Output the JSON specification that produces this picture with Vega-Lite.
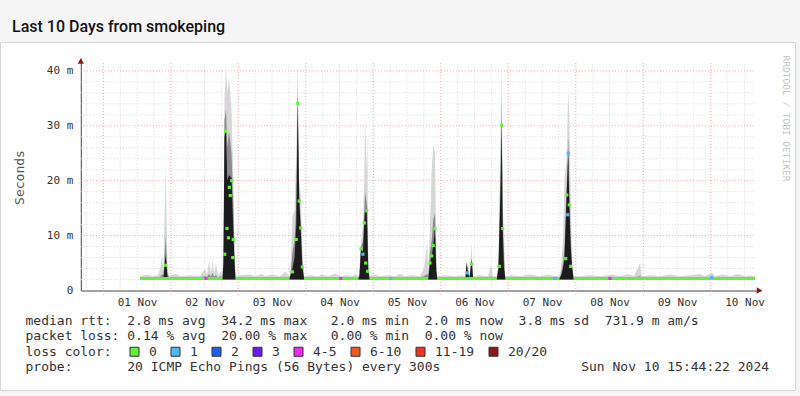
{
 "$schema": "https://vega.github.io/schema/vega-lite/v6.json",
 "autosize": {"type": "none"},
 "background": "#f5f5f5",
 "padding": {"left": 0, "top": 42, "right": 5, "bottom": 6},
 "width": 795,
 "height": 348,
 "view": {"fill": "#ffffff", "stroke": "#d6d6d6"},
 "config": {"view": {"stroke": null}},
 "title": {"text": "Last 10 Days from smokeping", "anchor": "start", "frame": "group", "orient": "top", "offset": -6, "dx": 12, "baseline": "alphabetic", "font": "Roboto", "fontSize": 16, "fontWeight": 500, "color": "#111111"},
 "datasets": {
  "vmin": [
   {"t":"2024-10-31T18:00"},
   {"t":"2024-11-01T06:00"},{"t":"2024-11-01T12:00"},{"t":"2024-11-01T18:00"},
   {"t":"2024-11-02T06:00"},{"t":"2024-11-02T12:00"},{"t":"2024-11-02T18:00"},
   {"t":"2024-11-03T06:00"},{"t":"2024-11-03T12:00"},{"t":"2024-11-03T18:00"},
   {"t":"2024-11-04T06:00"},{"t":"2024-11-04T12:00"},{"t":"2024-11-04T18:00"},
   {"t":"2024-11-05T06:00"},{"t":"2024-11-05T12:00"},{"t":"2024-11-05T18:00"},
   {"t":"2024-11-06T06:00"},{"t":"2024-11-06T12:00"},{"t":"2024-11-06T18:00"},
   {"t":"2024-11-07T06:00"},{"t":"2024-11-07T12:00"},{"t":"2024-11-07T18:00"},
   {"t":"2024-11-08T06:00"},{"t":"2024-11-08T12:00"},{"t":"2024-11-08T18:00"},
   {"t":"2024-11-09T06:00"},{"t":"2024-11-09T12:00"},{"t":"2024-11-09T18:00"},
   {"t":"2024-11-10T06:00"},{"t":"2024-11-10T12:00"}
  ],
  "vmaj": [
   {"t":"2024-11-01T00:00"},{"t":"2024-11-02T00:00"},{"t":"2024-11-03T00:00"},{"t":"2024-11-04T00:00"},{"t":"2024-11-05T00:00"},
   {"t":"2024-11-06T00:00"},{"t":"2024-11-07T00:00"},{"t":"2024-11-08T00:00"},{"t":"2024-11-09T00:00"},{"t":"2024-11-10T00:00"}
  ],
  "hmin": [{"v":2},{"v":4},{"v":6},{"v":8},{"v":12},{"v":14},{"v":16},{"v":18},{"v":22},{"v":24},{"v":26},{"v":28},{"v":32},{"v":34},{"v":36},{"v":38}],
  "hmaj": [{"v":10},{"v":20},{"v":30},{"v":40}],
  "smoke": [
   {"t":"2024-11-01T13:03","lo":2,"hi":2.6,"mid":2.4,"dk":2.2},
   {"t":"2024-11-01T15:54","lo":2,"hi":2.9,"mid":2.4,"dk":2.2},
   {"t":"2024-11-01T17:19","lo":2,"hi":2.6,"mid":2.4,"dk":2.2},
   {"t":"2024-11-01T19:27","lo":2,"hi":2.8,"mid":2.4,"dk":2.2},
   {"t":"2024-11-01T20:31","lo":2,"hi":4.5,"mid":2.6,"dk":2.2},
   {"t":"2024-11-01T20:52","lo":2,"hi":6.5,"mid":3.0,"dk":2.3},
   {"t":"2024-11-01T21:24","lo":2,"hi":3.5,"mid":2.8,"dk":2.4},
   {"t":"2024-11-01T22:11","lo":2,"hi":22.5,"mid":10,"dk":6.5},
   {"t":"2024-11-01T22:50","lo":2,"hi":4,"mid":3,"dk":2.4},
   {"t":"2024-11-01T23:22","lo":2,"hi":2.7,"mid":2.4,"dk":2.2},
   {"t":"2024-11-02T01:51","lo":2,"hi":3.0,"mid":2.4,"dk":2.2},
   {"t":"2024-11-02T03:16","lo":2,"hi":2.6,"mid":2.4,"dk":2.2},
   {"t":"2024-11-02T06:50","lo":2,"hi":2.8,"mid":2.4,"dk":2.2},
   {"t":"2024-11-02T10:23","lo":2,"hi":2.6,"mid":2.4,"dk":2.2},
   {"t":"2024-11-02T12:10","lo":2,"hi":4.0,"mid":2.6,"dk":2.2},
   {"t":"2024-11-02T12:52","lo":2,"hi":2.8,"mid":2.4,"dk":2.2},
   {"t":"2024-11-02T13:35","lo":2,"hi":5.4,"mid":3.0,"dk":2.3},
   {"t":"2024-11-02T14:18","lo":2,"hi":3.0,"mid":2.5,"dk":2.2},
   {"t":"2024-11-02T14:50","lo":2,"hi":5.7,"mid":3.2,"dk":2.4},
   {"t":"2024-11-02T15:22","lo":2,"hi":3.0,"mid":2.5,"dk":2.2},
   {"t":"2024-11-02T16:04","lo":2,"hi":5.0,"mid":2.8,"dk":2.3},
   {"t":"2024-11-02T16:47","lo":2,"hi":2.8,"mid":2.4,"dk":2.2},
   {"t":"2024-11-02T17:51","lo":2,"hi":3.5,"mid":2.6,"dk":2.3},
   {"t":"2024-11-02T18:23","lo":2,"hi":2.6,"mid":2.4,"dk":2.2},
   {"t":"2024-11-02T18:44","lo":2,"hi":8,"mid":6,"dk":5},
   {"t":"2024-11-02T19:06","lo":2,"hi":35,"mid":31,"dk":28},
   {"t":"2024-11-02T19:38","lo":2,"hi":41,"mid":33,"dk":29.2},
   {"t":"2024-11-02T20:05","lo":2,"hi":36,"mid":26,"dk":20},
   {"t":"2024-11-02T20:42","lo":2,"hi":39,"mid":29,"dk":21},
   {"t":"2024-11-02T21:35","lo":2,"hi":33,"mid":25,"dk":20.5},
   {"t":"2024-11-02T22:18","lo":2,"hi":20,"mid":14,"dk":10},
   {"t":"2024-11-02T22:39","lo":2,"hi":8,"mid":6,"dk":5},
   {"t":"2024-11-02T23:00","lo":2,"hi":2.6,"mid":2.4,"dk":2.2},
   {"t":"2024-11-03T00:36","lo":2,"hi":2.8,"mid":2.4,"dk":2.2},
   {"t":"2024-11-03T04:10","lo":2,"hi":2.9,"mid":2.4,"dk":2.2},
   {"t":"2024-11-03T05:56","lo":2,"hi":2.6,"mid":2.4,"dk":2.2},
   {"t":"2024-11-03T08:26","lo":2,"hi":3.0,"mid":2.4,"dk":2.2},
   {"t":"2024-11-03T09:30","lo":2,"hi":2.6,"mid":2.4,"dk":2.2},
   {"t":"2024-11-03T11:59","lo":2,"hi":2.9,"mid":2.4,"dk":2.2},
   {"t":"2024-11-03T14:50","lo":2,"hi":2.6,"mid":2.4,"dk":2.2},
   {"t":"2024-11-03T16:36","lo":2,"hi":3.4,"mid":2.5,"dk":2.2},
   {"t":"2024-11-03T18:12","lo":2,"hi":2.6,"mid":2.4,"dk":2.2},
   {"t":"2024-11-03T18:34","lo":2,"hi":4,"mid":3,"dk":2.8},
   {"t":"2024-11-03T19:16","lo":2,"hi":13.5,"mid":7,"dk":4},
   {"t":"2024-11-03T19:59","lo":2,"hi":14.6,"mid":9,"dk":6},
   {"t":"2024-11-03T20:37","lo":2,"hi":25,"mid":16,"dk":12},
   {"t":"2024-11-03T21:07","lo":2,"hi":41,"mid":37,"dk":34.1},
   {"t":"2024-11-03T21:39","lo":2,"hi":20,"mid":18,"dk":16.5},
   {"t":"2024-11-03T22:11","lo":2,"hi":17.6,"mid":13,"dk":11.4},
   {"t":"2024-11-03T22:45","lo":2,"hi":8,"mid":5.5,"dk":4.3},
   {"t":"2024-11-03T23:22","lo":2,"hi":2.6,"mid":2.4,"dk":2.2},
   {"t":"2024-11-04T01:30","lo":2,"hi":2.8,"mid":2.4,"dk":2.2},
   {"t":"2024-11-04T04:20","lo":2,"hi":2.6,"mid":2.4,"dk":2.2},
   {"t":"2024-11-04T05:46","lo":2,"hi":2.9,"mid":2.4,"dk":2.2},
   {"t":"2024-11-04T07:54","lo":2,"hi":2.6,"mid":2.4,"dk":2.2},
   {"t":"2024-11-04T10:23","lo":2,"hi":3.1,"mid":2.4,"dk":2.2},
   {"t":"2024-11-04T12:10","lo":2,"hi":2.6,"mid":2.4,"dk":2.2},
   {"t":"2024-11-04T15:00","lo":2,"hi":2.8,"mid":2.4,"dk":2.2},
   {"t":"2024-11-04T16:26","lo":2,"hi":2.6,"mid":2.4,"dk":2.2},
   {"t":"2024-11-04T17:51","lo":2,"hi":3.0,"mid":2.4,"dk":2.2},
   {"t":"2024-11-04T18:44","lo":2,"hi":2.6,"mid":2.4,"dk":2.2},
   {"t":"2024-11-04T19:06","lo":2,"hi":4,"mid":3,"dk":2.6},
   {"t":"2024-11-04T19:38","lo":2,"hi":9,"mid":8,"dk":7.6},
   {"t":"2024-11-04T20:20","lo":2,"hi":12,"mid":9,"dk":7},
   {"t":"2024-11-04T20:48","lo":2,"hi":20,"mid":14,"dk":12.3},
   {"t":"2024-11-04T21:03","lo":2,"hi":31.4,"mid":18,"dk":14.7},
   {"t":"2024-11-04T21:39","lo":2,"hi":22,"mid":16,"dk":14.5},
   {"t":"2024-11-04T21:52","lo":2,"hi":29,"mid":15,"dk":11},
   {"t":"2024-11-04T22:13","lo":2,"hi":6,"mid":4,"dk":3.5},
   {"t":"2024-11-04T22:39","lo":2,"hi":2.6,"mid":2.4,"dk":2.2},
   {"t":"2024-11-05T00:36","lo":2,"hi":2.9,"mid":2.4,"dk":2.2},
   {"t":"2024-11-05T02:23","lo":2,"hi":2.6,"mid":2.4,"dk":2.2},
   {"t":"2024-11-05T05:14","lo":2,"hi":2.8,"mid":2.4,"dk":2.2},
   {"t":"2024-11-05T07:43","lo":2,"hi":2.6,"mid":2.4,"dk":2.2},
   {"t":"2024-11-05T09:30","lo":2,"hi":3.0,"mid":2.4,"dk":2.2},
   {"t":"2024-11-05T11:16","lo":2,"hi":2.6,"mid":2.4,"dk":2.2},
   {"t":"2024-11-05T13:46","lo":2,"hi":2.8,"mid":2.4,"dk":2.2},
   {"t":"2024-11-05T16:36","lo":2,"hi":2.6,"mid":2.4,"dk":2.2},
   {"t":"2024-11-05T18:02","lo":2,"hi":4.0,"mid":2.6,"dk":2.2},
   {"t":"2024-11-05T19:12","lo":2,"hi":8.7,"mid":3,"dk":2.3},
   {"t":"2024-11-05T19:33","lo":2,"hi":3.0,"mid":2.4,"dk":2.2},
   {"t":"2024-11-05T20:10","lo":2,"hi":12,"mid":7,"dk":5},
   {"t":"2024-11-05T20:46","lo":2,"hi":22,"mid":9,"dk":6.3},
   {"t":"2024-11-05T21:20","lo":2,"hi":26.6,"mid":13,"dk":8.2},
   {"t":"2024-11-05T21:56","lo":2,"hi":25,"mid":14,"dk":11.3},
   {"t":"2024-11-05T22:22","lo":2,"hi":8,"mid":5,"dk":3.5},
   {"t":"2024-11-05T22:43","lo":2,"hi":2.6,"mid":2.4,"dk":2.2},
   {"t":"2024-11-06T01:30","lo":2,"hi":2.8,"mid":2.4,"dk":2.2},
   {"t":"2024-11-06T05:03","lo":2,"hi":2.6,"mid":2.4,"dk":2.2},
   {"t":"2024-11-06T07:32","lo":2,"hi":2.8,"mid":2.4,"dk":2.2},
   {"t":"2024-11-06T08:47","lo":2,"hi":2.6,"mid":2.4,"dk":2.2},
   {"t":"2024-11-06T09:08","lo":2,"hi":5.5,"mid":5,"dk":5},
   {"t":"2024-11-06T09:47","lo":2,"hi":4,"mid":3.5,"dk":3},
   {"t":"2024-11-06T10:12","lo":2,"hi":2.6,"mid":2.4,"dk":2.2},
   {"t":"2024-11-06T10:59","lo":2,"hi":8.3,"mid":6,"dk":5.6},
   {"t":"2024-11-06T11:27","lo":2,"hi":2.6,"mid":2.4,"dk":2.2},
   {"t":"2024-11-06T13:56","lo":2,"hi":2.8,"mid":2.4,"dk":2.2},
   {"t":"2024-11-06T16:47","lo":2,"hi":2.6,"mid":2.4,"dk":2.2},
   {"t":"2024-11-06T17:51","lo":2,"hi":4.7,"mid":2.6,"dk":2.2},
   {"t":"2024-11-06T18:34","lo":2,"hi":2.6,"mid":2.4,"dk":2.2},
   {"t":"2024-11-06T19:59","lo":2,"hi":2.6,"mid":2.4,"dk":2.2},
   {"t":"2024-11-06T20:31","lo":2,"hi":6,"mid":4.5,"dk":4},
   {"t":"2024-11-06T21:14","lo":2,"hi":28,"mid":22,"dk":18},
   {"t":"2024-11-06T21:39","lo":2,"hi":41,"mid":34,"dk":30.1},
   {"t":"2024-11-06T22:01","lo":2,"hi":15,"mid":12.5,"dk":11.3},
   {"t":"2024-11-06T22:28","lo":2,"hi":11.3,"mid":6,"dk":4},
   {"t":"2024-11-06T22:56","lo":2,"hi":2.6,"mid":2.4,"dk":2.2},
   {"t":"2024-11-07T01:19","lo":2,"hi":2.8,"mid":2.4,"dk":2.2},
   {"t":"2024-11-07T04:10","lo":2,"hi":2.6,"mid":2.4,"dk":2.2},
   {"t":"2024-11-07T07:43","lo":2,"hi":2.9,"mid":2.4,"dk":2.2},
   {"t":"2024-11-07T11:16","lo":2,"hi":2.6,"mid":2.4,"dk":2.2},
   {"t":"2024-11-07T14:07","lo":2,"hi":2.9,"mid":2.4,"dk":2.2},
   {"t":"2024-11-07T16:36","lo":2,"hi":2.6,"mid":2.4,"dk":2.2},
   {"t":"2024-11-07T18:12","lo":2,"hi":2.6,"mid":2.4,"dk":2.2},
   {"t":"2024-11-07T18:44","lo":2,"hi":4,"mid":3,"dk":2.6},
   {"t":"2024-11-07T19:27","lo":2,"hi":9,"mid":5,"dk":4},
   {"t":"2024-11-07T19:59","lo":2,"hi":20.4,"mid":8,"dk":5.8},
   {"t":"2024-11-07T20:46","lo":2,"hi":24,"mid":19,"dk":17.6},
   {"t":"2024-11-07T21:20","lo":2,"hi":36.8,"mid":28,"dk":25},
   {"t":"2024-11-07T21:41","lo":2,"hi":32,"mid":19,"dk":15.6},
   {"t":"2024-11-07T22:11","lo":2,"hi":18,"mid":10,"dk":8},
   {"t":"2024-11-07T22:39","lo":2,"hi":6,"mid":4.5,"dk":4.4},
   {"t":"2024-11-07T23:11","lo":2,"hi":2.6,"mid":2.4,"dk":2.2},
   {"t":"2024-11-08T01:30","lo":2,"hi":2.6,"mid":2.4,"dk":2.2},
   {"t":"2024-11-08T05:03","lo":2,"hi":2.8,"mid":2.4,"dk":2.2},
   {"t":"2024-11-08T08:36","lo":2,"hi":2.6,"mid":2.4,"dk":2.2},
   {"t":"2024-11-08T12:52","lo":2,"hi":2.9,"mid":2.4,"dk":2.2},
   {"t":"2024-11-08T15:43","lo":2,"hi":2.6,"mid":2.4,"dk":2.2},
   {"t":"2024-11-08T18:34","lo":2,"hi":3.0,"mid":2.4,"dk":2.2},
   {"t":"2024-11-08T20:42","lo":2,"hi":2.6,"mid":2.4,"dk":2.2},
   {"t":"2024-11-08T22:50","lo":2,"hi":5.0,"mid":2.6,"dk":2.2},
   {"t":"2024-11-08T23:32","lo":2,"hi":2.6,"mid":2.4,"dk":2.2},
   {"t":"2024-11-09T02:23","lo":2,"hi":2.8,"mid":2.4,"dk":2.2},
   {"t":"2024-11-09T05:56","lo":2,"hi":2.6,"mid":2.4,"dk":2.2},
   {"t":"2024-11-09T09:30","lo":2,"hi":2.9,"mid":2.4,"dk":2.2},
   {"t":"2024-11-09T13:03","lo":2,"hi":2.6,"mid":2.4,"dk":2.2},
   {"t":"2024-11-09T16:36","lo":2,"hi":2.8,"mid":2.4,"dk":2.2},
   {"t":"2024-11-09T20:10","lo":2,"hi":3.0,"mid":2.4,"dk":2.2},
   {"t":"2024-11-09T21:56","lo":2,"hi":2.6,"mid":2.4,"dk":2.2},
   {"t":"2024-11-10T00:26","lo":2,"hi":3.3,"mid":2.5,"dk":2.2},
   {"t":"2024-11-10T01:30","lo":2,"hi":2.6,"mid":2.4,"dk":2.2},
   {"t":"2024-11-10T03:59","lo":2,"hi":2.9,"mid":2.4,"dk":2.2},
   {"t":"2024-11-10T06:50","lo":2,"hi":2.6,"mid":2.4,"dk":2.2},
   {"t":"2024-11-10T09:40","lo":2,"hi":3.0,"mid":2.4,"dk":2.2},
   {"t":"2024-11-10T12:10","lo":2,"hi":2.6,"mid":2.4,"dk":2.2},
   {"t":"2024-11-10T13:56","lo":2,"hi":2.8,"mid":2.4,"dk":2.2},
   {"t":"2024-11-10T15:43","lo":2,"hi":2.6,"mid":2.4,"dk":2.2}
  ],
  "base": [
   {"t":"2024-11-01T13:03","m":2.2,"s":1},{"t":"2024-11-02T18:23","m":2.2,"s":1},
   {"t":"2024-11-02T23:00","m":2.2,"s":2},{"t":"2024-11-03T18:12","m":2.2,"s":2},
   {"t":"2024-11-03T23:22","m":2.2,"s":3},{"t":"2024-11-04T18:44","m":2.2,"s":3},
   {"t":"2024-11-04T22:39","m":2.2,"s":4},{"t":"2024-11-05T19:33","m":2.2,"s":4},
   {"t":"2024-11-05T22:43","m":2.2,"s":5},{"t":"2024-11-06T19:59","m":2.2,"s":5},
   {"t":"2024-11-06T22:56","m":2.2,"s":6},{"t":"2024-11-07T18:12","m":2.2,"s":6},
   {"t":"2024-11-07T23:11","m":2.2,"s":7},{"t":"2024-11-10T15:43","m":2.2,"s":7}
  ],
  "dots": [
   {"t":"2024-11-01T22:11","m":4.6,"loss":"0"},
   {"t":"2024-11-02T12:31","m":2.2,"loss":"4-5"},
   {"t":"2024-11-02T19:12","m":6.6,"loss":"0"},
   {"t":"2024-11-02T19:31","m":29.0,"loss":"0"},
   {"t":"2024-11-02T19:59","m":11.3,"loss":"0"},
   {"t":"2024-11-02T20:31","m":9.6,"loss":"0"},
   {"t":"2024-11-02T20:48","m":18.8,"loss":"0"},
   {"t":"2024-11-02T21:09","m":17.3,"loss":"0"},
   {"t":"2024-11-02T21:39","m":20.0,"loss":"0"},
   {"t":"2024-11-02T22:01","m":6.0,"loss":"0"},
   {"t":"2024-11-02T22:13","m":9.3,"loss":"0"},
   {"t":"2024-11-03T19:16","m":3.4,"loss":"0"},
   {"t":"2024-11-03T20:37","m":9.3,"loss":"0"},
   {"t":"2024-11-03T21:07","m":34.1,"loss":"0"},
   {"t":"2024-11-03T21:39","m":16.3,"loss":"0"},
   {"t":"2024-11-03T22:11","m":11.4,"loss":"0"},
   {"t":"2024-11-03T22:45","m":4.3,"loss":"0"},
   {"t":"2024-11-04T12:25","m":2.2,"loss":"4-5"},
   {"t":"2024-11-04T19:38","m":7.6,"loss":"0"},
   {"t":"2024-11-04T20:20","m":6.6,"loss":"1"},
   {"t":"2024-11-04T20:48","m":12.3,"loss":"0"},
   {"t":"2024-11-04T21:18","m":5.0,"loss":"0"},
   {"t":"2024-11-04T21:39","m":14.5,"loss":"0"},
   {"t":"2024-11-04T22:01","m":3.5,"loss":"0"},
   {"t":"2024-11-05T06:11","m":2.2,"loss":"1"},
   {"t":"2024-11-05T20:10","m":5.0,"loss":"0"},
   {"t":"2024-11-05T20:46","m":6.3,"loss":"0"},
   {"t":"2024-11-05T21:20","m":8.2,"loss":"0"},
   {"t":"2024-11-05T21:56","m":11.3,"loss":"0"},
   {"t":"2024-11-06T09:25","m":3.2,"loss":"1"},
   {"t":"2024-11-06T10:59","m":4.8,"loss":"0"},
   {"t":"2024-11-06T20:48","m":4.4,"loss":"0"},
   {"t":"2024-11-06T21:39","m":30.1,"loss":"0"},
   {"t":"2024-11-06T22:01","m":11.3,"loss":"0"},
   {"t":"2024-11-07T16:36","m":2.2,"loss":"1"},
   {"t":"2024-11-07T20:25","m":5.8,"loss":"0"},
   {"t":"2024-11-07T20:46","m":17.4,"loss":"0"},
   {"t":"2024-11-07T21:07","m":13.8,"loss":"1"},
   {"t":"2024-11-07T21:20","m":25.0,"loss":"1"},
   {"t":"2024-11-07T21:41","m":15.6,"loss":"0"},
   {"t":"2024-11-07T22:11","m":4.4,"loss":"0"},
   {"t":"2024-11-08T12:10","m":2.2,"loss":"4-5"},
   {"t":"2024-11-10T00:19","m":2.4,"loss":"1"}
  ]
 },
 "resolve": {"axis": {"y": "independent"}},
 "layer": [
  {
   "data": {"name": "vmin"},
   "mark": {"type": "rule", "color": "#d9d9d9", "strokeDash": [1, 2], "strokeWidth": 1},
   "encoding": {
    "x": {"field": "t", "type": "temporal",
     "scale": {"domain": [{"year": 2024, "month": 10, "date": 31, "hours": 16}, {"year": 2024, "month": 11, "date": 10, "hours": 18}], "range": [80.8, 761.4], "nice": false},
     "axis": {
      "values": [{"year":2024,"month":11,"date":1,"hours":12},{"year":2024,"month":11,"date":2,"hours":12},{"year":2024,"month":11,"date":3,"hours":12},{"year":2024,"month":11,"date":4,"hours":12},{"year":2024,"month":11,"date":5,"hours":12},{"year":2024,"month":11,"date":6,"hours":12},{"year":2024,"month":11,"date":7,"hours":12},{"year":2024,"month":11,"date":8,"hours":12},{"year":2024,"month":11,"date":9,"hours":12},{"year":2024,"month":11,"date":10,"hours":12}],
      "format": "%d %b",
      "labelFont": "DejaVu Sans Mono", "labelFontSize": 11, "labelColor": "#333333",
      "labelPadding": 6, "labelFlush": false, "labelOverlap": false,
      "ticks": false, "grid": false, "domainColor": "#444444", "domainWidth": 1,
      "offset": -99.5,
      "title": ["median rtt:\u00a0\u00a02.8 ms avg\u00a0\u00a034.2 ms max\u00a0\u00a0\u00a02.0 ms min\u00a0\u00a02.0 ms now\u00a0\u00a03.8 ms sd\u00a0\u00a0731.9 m am/s", "packet loss: 0.14 % avg\u00a0\u00a020.00 % max\u00a0\u00a0\u00a00.00 % min\u00a0\u00a00.00 % now", "loss color:", "probe:\u00a0\u00a0\u00a0\u00a0\u00a0\u00a0\u00a020 ICMP Echo Pings (56 Bytes) every 300s\u00a0\u00a0\u00a0\u00a0\u00a0\u00a0\u00a0\u00a0\u00a0\u00a0\u00a0\u00a0\u00a0\u00a0\u00a0\u00a0\u00a0\u00a0Sun Nov 10 15:44:22 2024"],
      "titleFont": "DejaVu Sans Mono", "titleFontSize": 13, "titleFontWeight": "normal", "titleColor": "#333333",
      "titleAlign": "left", "titleAnchor": "start", "titleBaseline": "alphabetic", "titleX": 25, "titleY": 33.5, "titleLineHeight": 15.5, "titleLimit": 2000
     }
    },
    "y": {"datum": 0, "type": "quantitative",
     "scale": {"domain": [0, 42.3], "range": [248.5, 16.3], "nice": false, "zero": false},
     "axis": {
      "orient": "left", "offset": -80.8,
      "values": [0, 10, 20, 30, 40],
      "labelExpr": "datum.value == 0 ? '0' : datum.value + ' m'",
      "labelFont": "DejaVu Sans Mono", "labelFontSize": 11, "labelColor": "#333333", "labelPadding": 8, "labelFlush": false,
      "ticks": false, "grid": false, "domainColor": "#444444",
      "title": "Seconds", "titleFont": "DejaVu Sans Mono", "titleFontSize": 13, "titleFontWeight": "normal", "titleColor": "#555555", "titlePadding": 20, "titleY": 135
     }
    },
    "y2": {"datum": 41.6}
   }
  },
  {
   "data": {"name": "vmaj"},
   "mark": {"type": "rule", "color": "#f2a2a2", "strokeDash": [1, 2], "strokeWidth": 1},
   "encoding": {
    "x": {"field": "t", "type": "temporal"},
    "y": {"datum": -0.8, "type": "quantitative", "axis": null},
    "y2": {"datum": 41.6}
   }
  },
  {
   "data": {"name": "hmin"},
   "mark": {"type": "rule", "color": "#d9d9d9", "strokeDash": [1, 2], "strokeWidth": 1},
   "encoding": {
    "y": {"field": "v", "type": "quantitative", "axis": null},
    "x": {"datum": {"year": 2024, "month": 10, "date": 31, "hours": 16}, "type": "temporal"},
    "x2": {"datum": {"year": 2024, "month": 11, "date": 10, "hours": 15, "minutes": 44}}
   }
  },
  {
   "data": {"name": "hmaj"},
   "mark": {"type": "rule", "color": "#f2a2a2", "strokeDash": [1, 2], "strokeWidth": 1},
   "encoding": {
    "y": {"field": "v", "type": "quantitative", "axis": null},
    "x": {"datum": {"year": 2024, "month": 10, "date": 31, "hours": 16}, "type": "temporal"},
    "x2": {"datum": {"year": 2024, "month": 11, "date": 10, "hours": 15, "minutes": 44}}
   }
  },
  {
   "data": {"name": "smoke"},
   "mark": {"type": "area", "color": "#d6d6d6"},
   "encoding": {
    "x": {"field": "t", "type": "temporal"},
    "y": {"field": "lo", "type": "quantitative", "axis": null},
    "y2": {"field": "hi"}
   }
  },
  {
   "data": {"name": "smoke"},
   "mark": {"type": "area", "color": "#8a8a8a"},
   "encoding": {
    "x": {"field": "t", "type": "temporal"},
    "y": {"field": "lo", "type": "quantitative", "axis": null},
    "y2": {"field": "mid"}
   }
  },
  {
   "data": {"name": "smoke"},
   "mark": {"type": "area", "color": "#1c1c1c"},
   "encoding": {
    "x": {"field": "t", "type": "temporal"},
    "y": {"field": "lo", "type": "quantitative", "axis": null},
    "y2": {"field": "dk"}
   }
  },
  {
   "data": {"name": "base"},
   "mark": {"type": "line", "color": "#62f03a", "strokeWidth": 3},
   "encoding": {
    "x": {"field": "t", "type": "temporal"},
    "y": {"field": "m", "type": "quantitative", "axis": null},
    "detail": {"field": "s", "type": "nominal"}
   }
  },
  {
   "data": {"name": "dots"},
   "mark": {"type": "point", "shape": "square", "filled": true, "size": 10, "opacity": 1},
   "encoding": {
    "x": {"field": "t", "type": "temporal"},
    "y": {"field": "m", "type": "quantitative", "axis": null},
    "color": {"field": "loss", "type": "nominal",
     "scale": {"domain": ["0", "1", "2", "3", "4-5", "6-10", "11-19", "20/20"], "range": ["#62f03a", "#4cb8f0", "#1f5ff0", "#6a1cf0", "#ee2bee", "#ee5a22", "#ee3322", "#8a1a14"]},
     "legend": {
      "orient": "none", "legendX": 128, "legendY": 303, "direction": "horizontal",
      "title": null,
      "labelFont": "DejaVu Sans Mono", "labelFontSize": 13, "labelColor": "#333333", "labelOffset": 8, "labelLimit": 200,
      "columnPadding": 12, "symbolType": "square", "symbolSize": 81, "symbolStrokeColor": "#333333", "symbolStrokeWidth": 1, "symbolOpacity": 1, "padding": 0,
      "encode": {"symbols": {"update": {"stroke": {"value": "#333333"}, "strokeWidth": {"value": 1}}}}
     }
    }
   }
  },
  {
   "data": {"values": [{}]},
   "mark": {"type": "point", "shape": "triangle-up", "filled": true, "color": "#7f1d1d", "size": 40, "opacity": 1},
   "encoding": {
    "x": {"datum": {"year": 2024, "month": 10, "date": 31, "hours": 16}, "type": "temporal"},
    "y": {"datum": 41.8, "type": "quantitative", "axis": null}
   }
  },
  {
   "data": {"values": [{}]},
   "mark": {"type": "point", "shape": "triangle-right", "filled": true, "color": "#7f1d1d", "size": 40, "opacity": 1},
   "encoding": {
    "x": {"datum": {"year": 2024, "month": 11, "date": 10, "hours": 17, "minutes": 19}, "type": "temporal"},
    "y": {"datum": 0, "type": "quantitative",
     "axis": {"orient": "right", "title": "RRDTOOL / TOBI OETIKER", "labels": false, "ticks": false, "domain": false, "grid": false,
      "titleAngle": 90, "titleX": -10, "titleY": 76, "titleAlign": "center", "titleBaseline": "middle",
      "titleFont": "DejaVu Sans Mono", "titleFontSize": 9.5, "titleFontWeight": "normal", "titleColor": "#c2c2c2"}
    }
   }
  }
 ]
}
